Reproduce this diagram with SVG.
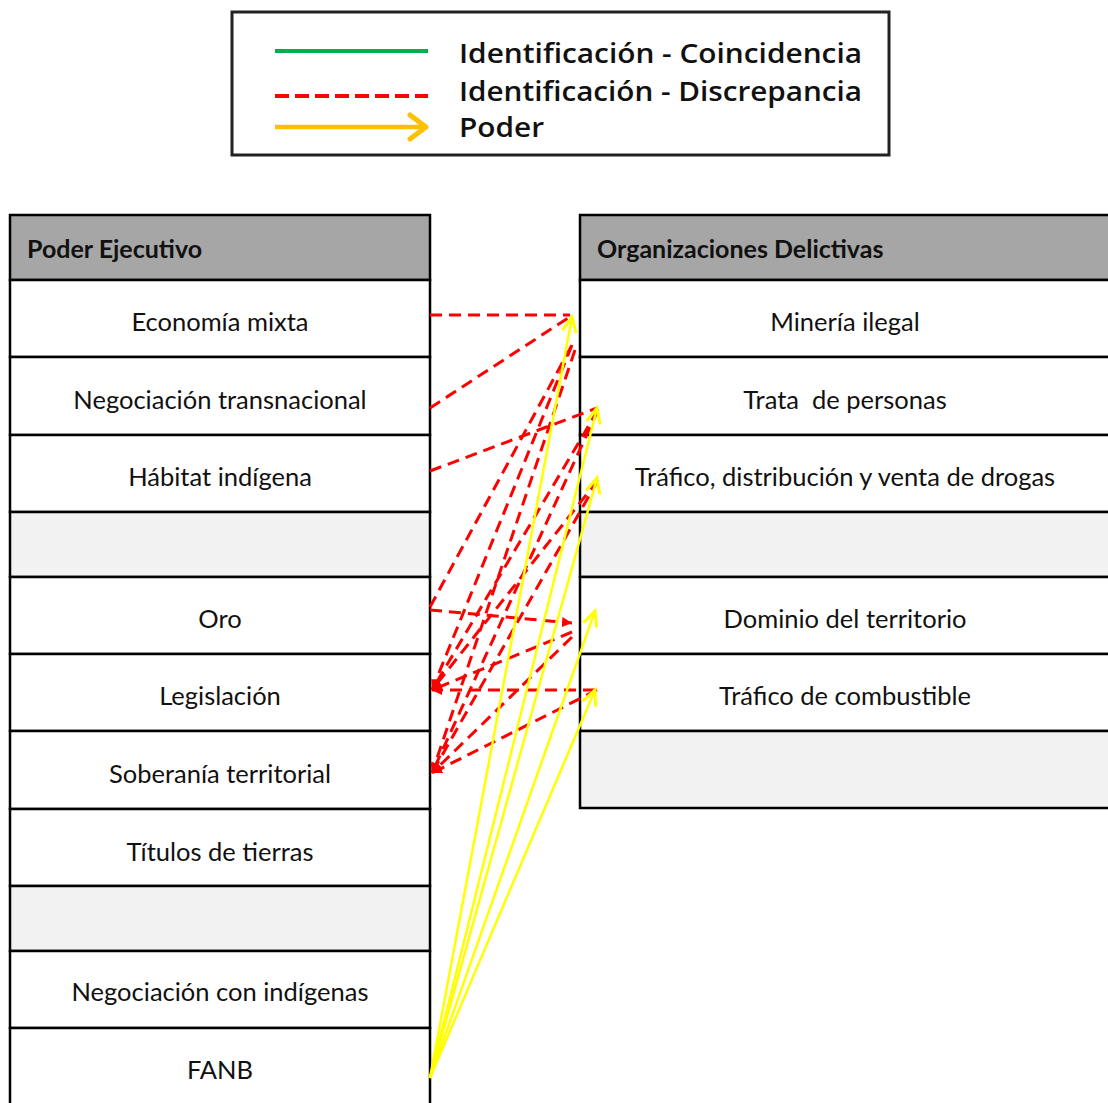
<svg xmlns="http://www.w3.org/2000/svg" width="1108" height="1103" viewBox="0 0 1108 1103">
<style>
.cell{fill:#fff;stroke:#000;stroke-width:2.5}
.gray{fill:#F2F2F2;stroke:#000;stroke-width:2.5}
.head{fill:#A6A6A6;stroke:#000;stroke-width:2.5}
.t{font-family:Lato,"Liberation Sans",sans-serif;font-size:25.5px;fill:#111;text-anchor:middle}
.h{font-family:Lato,"Liberation Sans",sans-serif;font-size:25px;font-weight:bold;fill:#111}
.lg{font-family:"Open Sans","Liberation Sans",sans-serif;font-size:27px;font-weight:600;fill:#111}
.red{fill:none;stroke:#FF0000;stroke-width:3;stroke-dasharray:12 7}
.redA{fill:none;stroke:#FF0000;stroke-width:3;stroke-dasharray:12 7;marker-end:url(#ra)}
.yel{fill:none;stroke:#FFFF00;stroke-width:2.5;marker-end:url(#ya)}
</style>
<defs>
<marker id="ya" markerUnits="userSpaceOnUse" markerWidth="20" markerHeight="20" refX="16" refY="8" orient="auto" viewBox="0 0 20 16">
<path d="M1,1 L16,8 L1,15" fill="none" stroke="#FFFF00" stroke-width="3"/>
</marker>
<marker id="ra" markerUnits="userSpaceOnUse" markerWidth="12" markerHeight="12" refX="10" refY="5" orient="auto" viewBox="0 0 12 10">
<path d="M0,0 L10,5 L0,10 Z" fill="#FF0000"/>
</marker>
<marker id="oa" markerUnits="userSpaceOnUse" markerWidth="24" markerHeight="30" refX="20" refY="14" orient="auto" viewBox="0 0 24 28">
<path d="M4,2 L20,14 L4,26" fill="none" stroke="#FFC000" stroke-width="5" stroke-linejoin="round" stroke-linecap="round"/>
</marker>
</defs>
<rect width="1108" height="1103" fill="#fff"/>

<g id="legend">
<rect x="232" y="12" width="657" height="143" fill="#fff" stroke="#222" stroke-width="3"/>
<line x1="275" y1="51" x2="428" y2="51" stroke="#00B050" stroke-width="4"/>
<line x1="275" y1="96" x2="428" y2="96" stroke="#FF0000" stroke-width="4" stroke-dasharray="14 6"/>
<line x1="275" y1="127" x2="426" y2="127" stroke="#FFC000" stroke-width="4.5" marker-end="url(#oa)"/>
<text class="lg" x="459" y="63" textLength="403" lengthAdjust="spacingAndGlyphs">Identificación - Coincidencia</text>
<text class="lg" x="459" y="101" textLength="403" lengthAdjust="spacingAndGlyphs">Identificación - Discrepancia</text>
<text class="lg" x="459" y="137" textLength="85" lengthAdjust="spacingAndGlyphs">Poder</text>
</g>

<g id="poder-ejecutivo">
<rect class="head" x="10" y="215" width="420" height="65"/>
<text class="h" x="27" y="258">Poder Ejecutivo</text>
<g id="economia-mixta"><rect class="cell" x="10" y="280" width="420" height="77"/><text class="t" x="220" y="331">Economía mixta</text></g>
<g id="negociacion-transnacional"><rect class="cell" x="10" y="357" width="420" height="78"/><text class="t" x="220" y="409">Negociación transnacional</text></g>
<g id="habitat-indigena"><rect class="cell" x="10" y="435" width="420" height="77"/><text class="t" x="220" y="486">Hábitat indígena</text></g>
<g id="left-empty-1"><rect class="gray" x="10" y="512" width="420" height="65"/></g>
<g id="oro"><rect class="cell" x="10" y="577" width="420" height="77"/><text class="t" x="220" y="628">Oro</text></g>
<g id="legislacion"><rect class="cell" x="10" y="654" width="420" height="77"/><text class="t" x="220" y="705">Legislación</text></g>
<g id="soberania"><rect class="cell" x="10" y="731" width="420" height="78"/><text class="t" x="220" y="783">Soberanía territorial</text></g>
<g id="titulos"><rect class="cell" x="10" y="809" width="420" height="77"/><text class="t" x="220" y="861">Títulos de tierras</text></g>
<g id="left-empty-2"><rect class="gray" x="10" y="886" width="420" height="65"/></g>
<g id="negociacion-indigenas"><rect class="cell" x="10" y="951" width="420" height="77"/><text class="t" x="220" y="1001">Negociación con indígenas</text></g>
<g id="fanb"><rect class="cell" x="10" y="1028" width="420" height="90"/><text class="t" x="220" y="1079">FANB</text></g>
</g>

<g id="organizaciones-delictivas">
<rect class="head" x="580" y="215" width="540" height="65"/>
<text class="h" x="597" y="258">Organizaciones Delictivas</text>
<g id="mineria"><rect class="cell" x="580" y="280" width="540" height="77"/><text class="t" x="845" y="331">Minería ilegal</text></g>
<g id="trata"><rect class="cell" x="580" y="357" width="540" height="78"/><text class="t" x="845" y="409" xml:space="preserve">Trata  de personas</text></g>
<g id="trafico-drogas"><rect class="cell" x="580" y="435" width="540" height="77"/><text class="t" x="845" y="486">Tráfico, distribución y venta de drogas</text></g>
<g id="right-empty-1"><rect class="gray" x="580" y="512" width="540" height="65"/></g>
<g id="dominio"><rect class="cell" x="580" y="577" width="540" height="77"/><text class="t" x="845" y="628">Dominio del territorio</text></g>
<g id="combustible"><rect class="cell" x="580" y="654" width="540" height="77"/><text class="t" x="845" y="705">Tráfico de combustible</text></g>
<g id="right-empty-2"><rect class="gray" x="580" y="731" width="540" height="77"/></g>
</g>

<g id="connectors">
<path class="red" d="M430,315 L570,315"/>
<path class="red" d="M430,408 L568,318"/>
<path class="red" d="M430,471 L597,408"/>
<path class="red" d="M430,607 L572,345"/>
<path class="redA" d="M430,610 L572,623"/>
<path class="redA" d="M572,345 L432,690"/>
<path class="redA" d="M575,350 L432,773"/>
<path class="redA" d="M598,410 L432,773"/>
<path class="redA" d="M598,410 L432,690"/>
<path class="redA" d="M598,480 L432,690"/>
<path class="redA" d="M598,480 L432,773"/>
<path class="redA" d="M572,632 L432,690"/>
<path class="redA" d="M572,637 L432,773"/>
<path class="redA" d="M595,690 L432,690"/>
<path class="redA" d="M597,690 L432,773"/>
<path class="yel" d="M430,1078 L572,317"/>
<path class="yel" d="M430,1078 L597,408"/>
<path class="yel" d="M430,1078 L597,478"/>
<path class="yel" d="M430,1078 L595,611"/>
<path class="yel" d="M430,1078 L595,690"/>
</g>
</svg>
